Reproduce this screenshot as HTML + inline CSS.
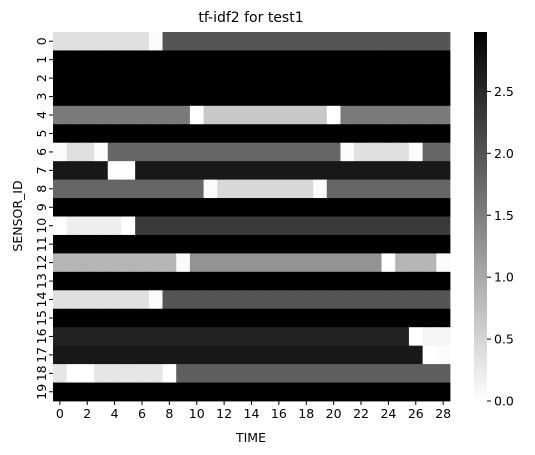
<!DOCTYPE html>
<html><head><meta charset="utf-8">
<style>
html,body{margin:0;padding:0;background:#fff;}
svg{display:block;font-family:"DejaVu Sans","Liberation Sans",sans-serif;}
</style></head>
<body>
<svg id="chart" width="535" height="455" viewBox="0 0 535 455" xmlns="http://www.w3.org/2000/svg">
<text x="251" y="22" font-size="14" text-anchor="middle" fill="#000">tf-idf2 for test1</text>
<g id="cells"></g>
<g id="xaxis"></g>
<g id="yaxis"></g>
<text x="251" y="442" font-size="12.5" text-anchor="middle">TIME</text>
<text transform="translate(22,216) rotate(-90)" font-size="12.5" text-anchor="middle">SENSOR_ID</text>
<defs><linearGradient id="cbg" x1="0" y1="1" x2="0" y2="0"><stop offset="0" stop-color="#fff"/><stop offset="1" stop-color="#000"/></linearGradient></defs>
<rect x="474" y="32" width="13" height="369" fill="url(#cbg)"/>
<g id="cbaxis"></g>
</svg>
<script>
const rowLabels = ["0","1","2","3","4","5","6","7","8","9","10","11","12","13","14","15","16","17","18","19"];
const xTickLabels = ["0","2","4","6","8","10","12","14","16","18","20","22","24","26","28"];
const cbTicks = [0.0,0.5,1.0,1.5,2.0,2.5];
const vmin = 0, vmax = 2.98;
// run-length encoded rows: [value, count]
const rowRuns = [
 [[0.36,7],[0.05,1],[1.99,21]],
 [[2.98,29]],
 [[2.98,29]],
 [[2.98,29]],
 [[1.55,10],[0,1],[0.64,9],[0,1],[1.55,8]],
 [[2.98,29]],
 [[0.05,1],[0.36,2],[0.05,1],[1.79,17],[0.05,1],[0.36,4],[0.05,1],[1.79,2]],
 [[2.70,4],[0,2],[2.70,23]],
 [[1.79,11],[0.05,1],[0.46,7],[0.05,1],[1.79,9]],
 [[2.98,29]],
 [[0,1],[0.2,4],[0,1],[2.30,23]],
 [[2.98,29]],
 [[0.86,9],[0.05,1],[1.26,14],[0,1],[0.86,3],[0.05,1]],
 [[2.98,29]],
 [[0.36,7],[0.05,1],[1.99,21]],
 [[2.98,29]],
 [[2.58,26],[0,1],[0.12,2]],
 [[2.70,27],[0,1],[0.05,1]],
 [[0.29,1],[0,2],[0.29,5],[0,1],[1.88,20]],
 [[2.98,29]]
];
const NS="http://www.w3.org/2000/svg";
const X0=53,X1=450,Y0=32,Y1=401,NC=29,NR=rowRuns.length;
const cw=(X1-X0)/NC, rh=(Y1-Y0)/NR;
function xPos(c){return X0+c*cw;}
function yPos(r){return Y0+r*rh;}
function cbY(v){return Y1-(v-vmin)/(vmax-vmin)*(Y1-Y0);}
function color(v){const g=Math.round(255*(1-(v-vmin)/(vmax-vmin)));return `rgb(${g},${g},${g})`;}
const cells=document.getElementById('cells');
rowRuns.forEach((runs,r)=>{
  let c=0;
  runs.forEach(([v,n])=>{
    for(let k=0;k<n;k++){
      const el=document.createElementNS(NS,'rect');
      
      
      el.setAttribute('x',xPos(c).toFixed(2));
      el.setAttribute('y',yPos(r).toFixed(2));
      el.setAttribute('width',(cw+0.4).toFixed(2));
      el.setAttribute('height',(rh+0.4).toFixed(2));
      el.setAttribute('fill',color(v));
      cells.appendChild(el);
      c++;
    }
  });
});
const xa=document.getElementById('xaxis');
xTickLabels.forEach(t=>{
  const x=xPos(+t+0.5);
  const ln=document.createElementNS(NS,'line');
  
  
  ln.setAttribute('x1',x);ln.setAttribute('x2',x);ln.setAttribute('y1',Y1);ln.setAttribute('y2',Y1+4);ln.setAttribute('stroke','#000');
  xa.appendChild(ln);
  const tx=document.createElementNS(NS,'text');
  
  
  tx.setAttribute('x',x);tx.setAttribute('y',Y1+17);tx.setAttribute('font-size','12.5');tx.setAttribute('text-anchor','middle');
  tx.textContent=t;xa.appendChild(tx);
});
const ya=document.getElementById('yaxis');
rowLabels.forEach((t,r)=>{
  const y=yPos(r+0.5);
  const ln=document.createElementNS(NS,'line');
  
  
  ln.setAttribute('x1',X0-4);ln.setAttribute('x2',X0);ln.setAttribute('y1',y);ln.setAttribute('y2',y);ln.setAttribute('stroke','#000');
  ya.appendChild(ln);
  const tx=document.createElementNS(NS,'text');
  
  
  tx.setAttribute('transform',`translate(${X0-7},${y}) rotate(-90)`);
  tx.setAttribute('font-size','12.5');tx.setAttribute('text-anchor','middle');
  tx.textContent=t;ya.appendChild(tx);
});
const cba=document.getElementById('cbaxis');
cbTicks.forEach(v=>{
  const y=cbY(v);
  const ln=document.createElementNS(NS,'line');
  
  
  ln.setAttribute('x1',487);ln.setAttribute('x2',491);ln.setAttribute('y1',y);ln.setAttribute('y2',y);ln.setAttribute('stroke','#000');
  cba.appendChild(ln);
  const tx=document.createElementNS(NS,'text');
  
  
  tx.setAttribute('x',494);tx.setAttribute('y',y+4.5);tx.setAttribute('font-size','12.5');
  tx.textContent=v.toFixed(1);cba.appendChild(tx);
});
</script>
</body></html>
